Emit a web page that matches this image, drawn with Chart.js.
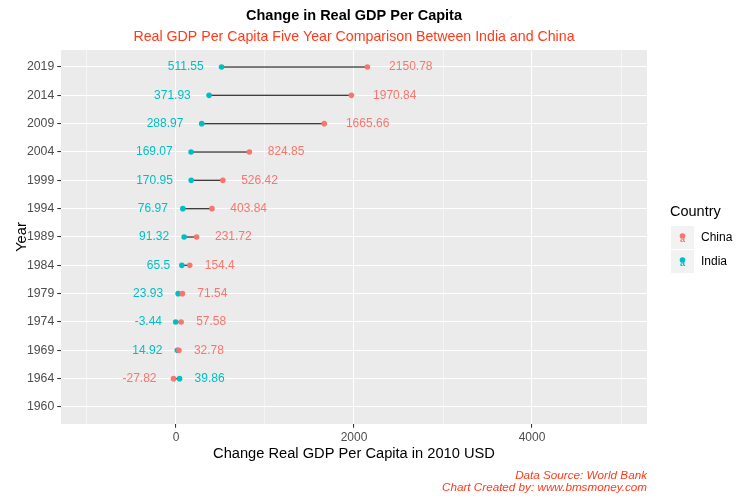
<!DOCTYPE html>
<html lang="en">
  <head>
    <meta charset="UTF-8" />
    <title>Change in Real GDP Per Capita</title>
    <script src="https://cdn.jsdelivr.net/npm/chart.js"></script>
    <style>
      body { margin: 0; background: #ffffff; }
    </style>
  </head>
  <body>
    <canvas id="gdpChart" width="750" height="500"></canvas>
    <script>
      // chart data
      const years = ["1960", "1964", "1969", "1974", "1979", "1984", "1989", "1994", "1999", "2004", "2009", "2014", "2019"];
      const chinaChange = [null, -27.82, 32.78, 57.58, 71.54, 154.4, 231.72, 403.84, 526.42, 824.85, 1665.66, 1970.84, 2150.78];
      const indiaChange = [null, 39.86, 14.92, -3.44, 23.93, 65.5, 91.32, 76.97, 170.95, 169.07, 288.97, 371.93, 511.55];
      const xTicks = [-1000, 0, 1000, 2000, 3000, 4000, 5000];
      const xTickLabels = [0, 2000, 4000];

      const titleText = "Change in Real GDP Per Capita";
      const subtitleText = "Real GDP Per Capita Five Year Comparison Between India and China";
      const captionLines = ["Data Source: World Bank", "Chart Created by: www.bmsmoney.com"];
      const xTitle = "Change Real GDP Per Capita in 2010 USD";
      const yTitle = "Year";
      const legendTitle = "Country";

      const FONT = "'Liberation Sans', Arial, sans-serif";
      const CHINA_COLOR = "#F8766D";
      const INDIA_COLOR = "#00BFC4";
      const RED_TEXT = "#FF3A1A";

      const chinaPoints = [];
      const indiaPoints = [];
      const segments = [];
      years.forEach((yr, i) => {
        if (chinaChange[i] == null) return;
        chinaPoints.push({ x: chinaChange[i], y: i });
        indiaPoints.push({ x: indiaChange[i], y: i });
        segments.push({ x: indiaChange[i], y: i }, { x: chinaChange[i], y: i }, { x: null, y: null });
      });

      // grey panel like ggplot
      const panelBackground = {
        id: "panelBackground",
        beforeDraw(chart) {
          const { ctx, chartArea } = chart;
          ctx.save();
          ctx.fillStyle = "#EBEBEB";
          ctx.fillRect(chartArea.left, chartArea.top, chartArea.right - chartArea.left, chartArea.bottom - chartArea.top);
          ctx.restore();
        },
      };

      // value labels beside each point, lower value on the left
      const valueLabels = {
        id: "valueLabels",
        afterDatasetsDraw(chart) {
          const { ctx, scales } = chart;
          ctx.save();
          ctx.font = "12px " + FONT;
          ctx.textBaseline = "middle";
          years.forEach((yr, i) => {
            if (chinaChange[i] == null) return;
            const py = scales.y.getPixelForValue(i);
            const items = [
              { v: chinaChange[i], c: CHINA_COLOR },
              { v: indiaChange[i], c: INDIA_COLOR },
            ].sort((a, b) => a.v - b.v);
            items.forEach((it, k) => {
              const txt = String(it.v);
              const w = ctx.measureText(txt).width;
              const px = scales.x.getPixelForValue(it.v);
              ctx.fillStyle = it.c;
              if (k === 0) {
                ctx.textAlign = "right";
                ctx.fillText(txt, px - w / 2, py);
              } else {
                ctx.textAlign = "left";
                ctx.fillText(txt, px + w / 2, py);
              }
            });
          });
          ctx.restore();
        },
      };

      // titles, caption and legend
      const ggText = {
        id: "ggText",
        afterDraw(chart) {
          const { ctx, chartArea } = chart;
          const cx = (chartArea.left + chartArea.right) / 2;
          ctx.save();
          ctx.textBaseline = "alphabetic";
          ctx.textAlign = "center";
          ctx.fillStyle = "#000000";
          ctx.font = "bold 14.5px " + FONT;
          ctx.fillText(titleText, cx, 19.5);
          ctx.fillStyle = RED_TEXT;
          ctx.font = "14.2px " + FONT;
          ctx.fillText(subtitleText, cx, 40.8);

          ctx.textAlign = "right";
          ctx.font = "italic 11.7px " + FONT;
          ctx.fillText(captionLines[0], chartArea.right, 479.3);
          ctx.fillText(captionLines[1], chartArea.right, 491.3);

          // legend
          const lx = 671;
          ctx.textAlign = "left";
          ctx.fillStyle = "#000000";
          ctx.font = "14.5px " + FONT;
          ctx.fillText(legendTitle, lx - 1, 216);
          const keys = [
            { label: "China", color: CHINA_COLOR },
            { label: "India", color: INDIA_COLOR },
          ];
          keys.forEach((k, i) => {
            const top = 226 + i * 24;
            ctx.fillStyle = "#F2F2F2";
            ctx.fillRect(lx, top, 23, 23);
            ctx.fillStyle = k.color;
            ctx.beginPath();
            ctx.arc(lx + 11.5, top + 10, 2.8, 0, Math.PI * 2);
            ctx.fill();
            ctx.font = "bold 9px " + FONT;
            ctx.textAlign = "center";
            ctx.textBaseline = "middle";
            ctx.fillText("a", lx + 11.5, top + 13.5);
            ctx.fillStyle = "#000000";
            ctx.font = "12px " + FONT;
            ctx.textAlign = "left";
            ctx.fillText(k.label, lx + 30, top + 11.5);
            ctx.textBaseline = "alphabetic";
          });
          ctx.restore();
        },
      };

      const ctx = document.getElementById("gdpChart").getContext("2d");
      const gdpChart = new Chart(ctx, {
        type: "scatter",
        data: {
          datasets: [
            {
              label: "China",
              data: chinaPoints,
              backgroundColor: CHINA_COLOR,
              borderWidth: 0,
              pointRadius: 2.8,
              order: 0,
            },
            {
              label: "India",
              data: indiaPoints,
              backgroundColor: INDIA_COLOR,
              borderWidth: 0,
              pointRadius: 2.8,
              order: 1,
            },
            {
              label: "segment",
              data: segments,
              showLine: true,
              spanGaps: false,
              borderColor: "#000000",
              borderWidth: 1.07,
              pointRadius: 0,
              order: 2,
            },
          ],
        },
        options: {
          responsive: false,
          animation: false,
          layout: { padding: { top: 50, right: 103, bottom: 36, left: 0 } },
          plugins: {
            legend: { display: false },
            tooltip: { enabled: false },
          },
          scales: {
            x: {
              type: "linear",
              min: -1292,
              max: 5292,
              afterBuildTicks: (axis) => {
                axis.ticks = xTicks.map((v) => ({ value: v }));
              },
              afterFit: (axis) => {
                axis.height = 40;
              },
              ticks: {
                callback: (v) => (xTickLabels.includes(v) ? String(v) : ""),
                color: "#4D4D4D",
                font: { size: 12, family: FONT },
                padding: 3,
                autoSkip: false,
                maxRotation: 0,
              },
              grid: {
                color: "#FFFFFF",
                lineWidth: (c) => (c.tick && xTickLabels.includes(c.tick.value) ? 1.07 : 0.53),
                tickLength: 3.7,
                tickWidth: 1.07,
                tickColor: (c) => (c.tick && xTickLabels.includes(c.tick.value) ? "#333333" : "rgba(0,0,0,0)"),
              },
              border: { display: false },
              title: {
                display: true,
                text: xTitle,
                color: "#000000",
                font: { size: 14.67, family: FONT },
                padding: { top: 0, bottom: 1.3 },
              },
            },
            y: {
              type: "linear",
              min: -0.6,
              max: years.length - 0.4,
              afterBuildTicks: (axis) => {
                axis.ticks = years.map((_, i) => ({ value: i }));
              },
              afterFit: (axis) => {
                axis.width = 61;
              },
              ticks: {
                callback: (v) => years[v],
                color: "#4D4D4D",
                font: { size: 12.3, family: FONT },
                padding: 3,
                autoSkip: false,
              },
              grid: {
                color: "#FFFFFF",
                lineWidth: 1.07,
                tickLength: 3.7,
                tickWidth: 1.07,
                tickColor: "#333333",
              },
              border: { display: false },
              title: {
                display: true,
                text: yTitle,
                color: "#000000",
                font: { size: 14.67, family: FONT },
                padding: { top: 13.6, bottom: 0 },
              },
            },
          },
        },
        plugins: [panelBackground, valueLabels, ggText],
      });
    </script>
  </body>
</html>
